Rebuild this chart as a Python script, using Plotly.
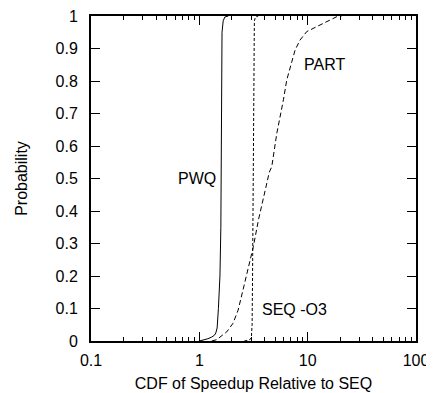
import math
import plotly.graph_objects as go

pwq_x = [1.0, 1.1, 1.2, 1.3, 1.38, 1.42, 1.46, 1.50, 1.55, 1.58, 1.60, 1.61, 1.62, 1.66, 1.72, 1.85]
pwq_y = [0.0, 0.003, 0.007, 0.012, 0.018, 0.025, 0.04, 0.1, 0.2, 0.35, 0.6, 0.8, 0.95, 0.985, 0.997, 1.0]

seq_x = [2.6, 2.9, 3.02, 3.07, 3.10, 3.13, 3.16, 3.18, 3.22, 3.3, 3.5]
seq_y = [0.0, 0.003, 0.01, 0.05, 0.2, 0.5, 0.8, 0.95, 0.985, 0.997, 1.0]

part_x = [1.3, 1.45, 1.55, 1.79, 2.05, 2.28, 2.53, 2.82, 3.15, 3.51, 4.04, 4.43, 4.66, 5.19, 5.97, 6.41, 7.65, 8.5, 9.8, 12.1, 15.0, 18.6, 20.6]
part_y = [0.0, 0.004, 0.012, 0.028, 0.055, 0.095, 0.157, 0.228, 0.29, 0.372, 0.465, 0.52, 0.536, 0.639, 0.742, 0.803, 0.895, 0.926, 0.952, 0.967, 0.982, 0.998, 1.0]

x_tickvals = [0.1, 1, 10, 100]
x_ticktext = ["0.1", "1", "10", "100"]
y_tickvals = [0, 0.1, 0.2, 0.3, 0.4, 0.5, 0.6, 0.7, 0.8, 0.9, 1]
y_ticktext = ["0", "0.1", "0.2", "0.3", "0.4", "0.5", "0.6", "0.7", "0.8", "0.9", "1"]

font = dict(family="Liberation Sans, Arial, sans-serif", size=16, color="black")

fig = go.Figure()
fig.add_trace(go.Scatter(x=pwq_x, y=pwq_y, mode="lines", line=dict(color="black", width=1), name="PWQ"))
fig.add_trace(go.Scatter(x=seq_x, y=seq_y, mode="lines", line=dict(color="black", width=1, dash="3px,2px"), name="SEQ -O3"))
fig.add_trace(go.Scatter(x=part_x, y=part_y, mode="lines", line=dict(color="black", width=1, dash="5px,3px"), name="PART"))

fig.add_annotation(x=0.173, y=0.5, text="PWQ", showarrow=False, xanchor="right", yanchor="middle", font=font)
fig.add_annotation(x=0.95, y=0.85, text="PART", showarrow=False, xanchor="left", yanchor="middle", font=font)
fig.add_annotation(x=0.56, y=0.098, text="SEQ -O3", showarrow=False, xanchor="left", yanchor="middle", font=font)

fig.update_layout(
    width=426, height=385,
    margin=dict(l=83, r=18, t=8, b=52, autoexpand=False),
    paper_bgcolor="white", plot_bgcolor="white",
    showlegend=False,
    font=font,
    xaxis=dict(
        type="log",
        range=[math.log10(x_tickvals[0]), math.log10(x_tickvals[-1])],
        tickmode="linear", tick0=0, dtick=1,
        ticks="inside", ticklen=9, tickwidth=1, tickcolor="black",
        minor=dict(ticks="inside", ticklen=4, tickwidth=1, tickcolor="black", dtick="D1"),
        showline=True, linecolor="black", linewidth=2, mirror="allticks",
        showgrid=False, zeroline=False, automargin=False,
        ticklabelstandoff=4, ticklabeloverflow="allow",
        title=dict(text="CDF of Speedup Relative to SEQ", font=font, standoff=10),
    ),
    yaxis=dict(
        range=[0, 1],
        tickvals=y_tickvals, ticktext=y_ticktext,
        ticks="inside", ticklen=9, tickwidth=1, tickcolor="black",
        showline=True, linecolor="black", linewidth=2, mirror="allticks",
        showgrid=False, zeroline=False, automargin=False,
        ticklabelstandoff=8, ticklabeloverflow="allow",
        title=dict(text="Probability", font=font, standoff=24),
    ),
)

fig.write_html("out.html")
